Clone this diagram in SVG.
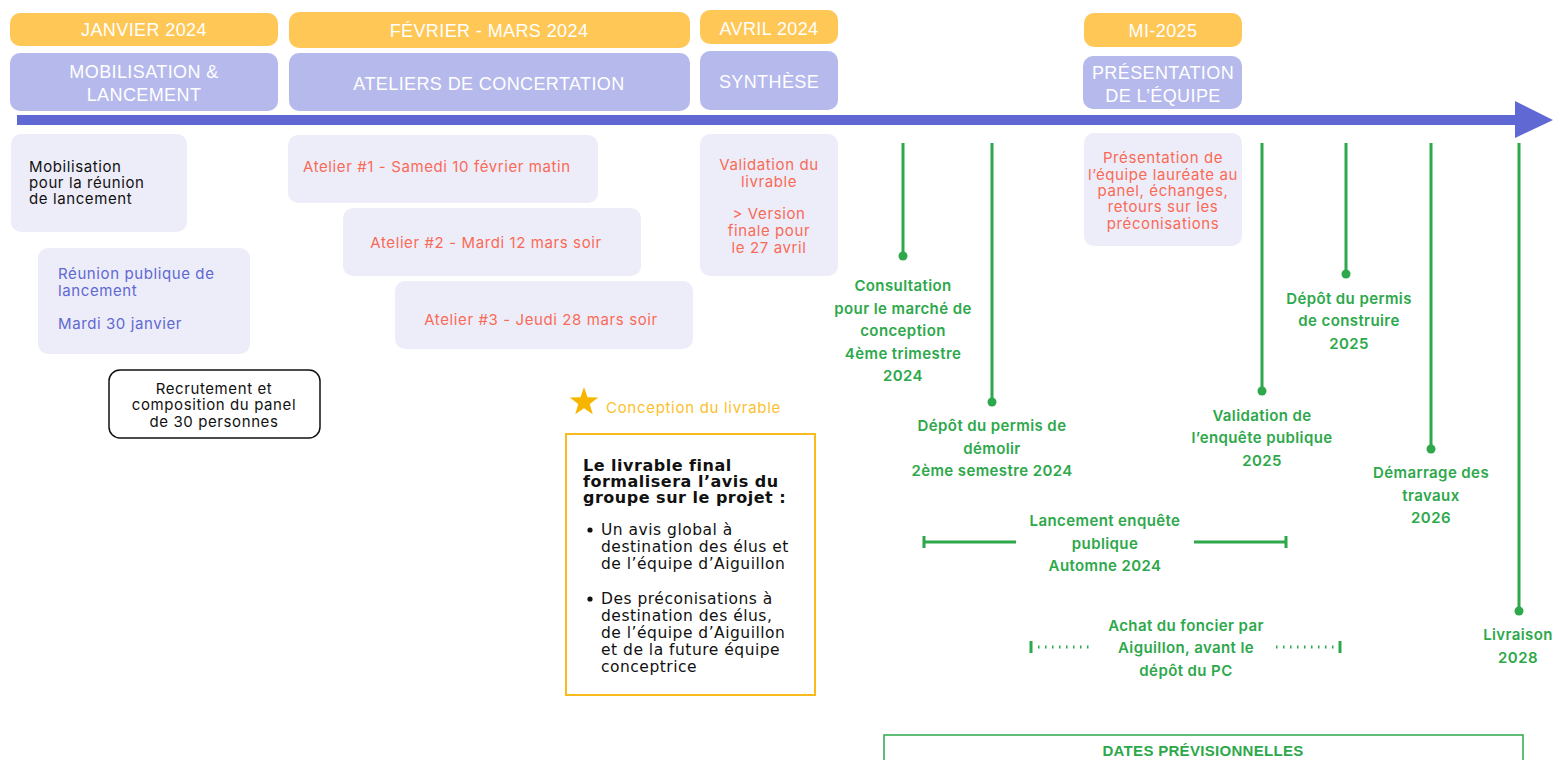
<svg xmlns="http://www.w3.org/2000/svg" width="1554" height="760" viewBox="0 0 1554 760">
<style>
.hdr{fill:#FEC756}
.phs{fill:#B6B9EC}
.ht{font-family:"Liberation Sans",Arial,sans-serif;font-size:18px;letter-spacing:0.4px;fill:#fff;text-anchor:middle}
.lb{fill:#EDEDF9}
.bt{font-family:Inter,"Liberation Sans",sans-serif;font-size:15px;letter-spacing:0.6px}
.coral{fill:#F96A56}
.blue{fill:#6068D3}
.blk{fill:#111}
.mid{text-anchor:middle}
.gl{stroke:#2DA84B;stroke-width:3;fill:none}
.gd{fill:#2DA84B}
.gt{font-family:Inter,"Liberation Sans",sans-serif;font-size:15px;letter-spacing:0.4px;font-weight:600;fill:#2DA84B;text-anchor:middle}
.yt{font-family:"DejaVu Sans","Open Sans",sans-serif;font-size:15.5px;letter-spacing:0.5px;fill:#111}
.yb{font-family:"DejaVu Sans","Open Sans",sans-serif;font-size:16px;letter-spacing:0.5px;font-weight:700;fill:#111}
</style>
<rect width="1554" height="760" fill="#fff"/>

<g id="hdr-janvier"><rect class="hdr" x="10" y="13" width="268" height="33" rx="10"/><text class="ht" x="144" y="36">JANVIER 2024</text></g>
<g id="phase-mobilisation"><rect class="phs" x="10" y="53" width="268" height="58" rx="10"/><text class="ht" x="144" y="78">MOBILISATION &amp;</text><text class="ht" x="144" y="101">LANCEMENT</text></g>
<g id="hdr-fevrier"><rect class="hdr" x="289" y="12" width="401" height="36" rx="10"/><text class="ht" x="489" y="37">FÉVRIER - MARS 2024</text></g>
<g id="phase-ateliers"><rect class="phs" x="289" y="53" width="401" height="58" rx="10"/><text class="ht" x="489" y="90">ATELIERS DE CONCERTATION</text></g>
<g id="hdr-avril"><rect class="hdr" x="700" y="10" width="138" height="34" rx="10"/><text class="ht" x="769" y="35">AVRIL 2024</text></g>
<g id="phase-synthese"><rect class="phs" x="700" y="51" width="138" height="59" rx="10"/><text class="ht" x="769" y="88">SYNTHÈSE</text></g>
<g id="hdr-mi2025"><rect class="hdr" x="1084" y="13" width="158" height="34" rx="10"/><text class="ht" x="1163" y="37">MI-2025</text></g>
<g id="phase-presentation"><rect class="phs" x="1083" y="56" width="159" height="53" rx="10"/><text class="ht" x="1163" y="79">PRÉSENTATION</text><text class="ht" x="1163" y="102">DE L’ÉQUIPE</text></g>

<g id="timeline-arrow"><rect x="17" y="115" width="1500" height="10" fill="#6068D3"/><polygon points="1515,101 1553,120 1515,138" fill="#6068D3"/></g>

<g id="box-mobilisation"><rect class="lb" x="11" y="134" width="176" height="98" rx="10"/>
<text class="bt blk" x="29" y="172">Mobilisation</text><text class="bt blk" x="29" y="188">pour la réunion</text><text class="bt blk" x="29" y="204">de lancement</text></g>
<g id="box-reunion"><rect class="lb" x="38" y="248" width="212" height="106" rx="10"/>
<text class="bt blue" x="58" y="279">Réunion publique de</text><text class="bt blue" x="58" y="296">lancement</text><text class="bt blue" x="58" y="329">Mardi 30 janvier</text></g>
<g id="box-recrutement"><rect x="109" y="370" width="211" height="68" rx="11" fill="#fff" stroke="#111" stroke-width="1.5"/>
<text class="bt blk mid" x="214" y="394">Recrutement et</text><text class="bt blk mid" x="214" y="410">composition du panel</text><text class="bt blk mid" x="214" y="427">de 30 personnes</text></g>

<g id="box-atelier1"><rect class="lb" x="288" y="135" width="310" height="68" rx="10"/><text class="bt coral" x="303" y="172">Atelier #1 - Samedi 10 février matin</text></g>
<g id="box-atelier2"><rect class="lb" x="343" y="208" width="298" height="68" rx="10"/><text class="bt coral mid" x="486" y="248">Atelier #2 - Mardi 12 mars soir</text></g>
<g id="box-atelier3"><rect class="lb" x="395" y="281" width="298" height="68" rx="10"/><text class="bt coral mid" x="541" y="325">Atelier #3 - Jeudi 28 mars soir</text></g>
<g id="box-validation"><rect class="lb" x="700" y="134" width="138" height="142" rx="10"/>
<text class="bt coral mid" x="769" y="170">Validation du</text><text class="bt coral mid" x="769" y="187">livrable</text><text class="bt coral mid" x="769" y="219">&gt; Version</text><text class="bt coral mid" x="769" y="236">finale pour</text><text class="bt coral mid" x="769" y="253">le 27 avril</text></g>
<g id="box-presentation"><rect class="lb" x="1084" y="133" width="158" height="113" rx="10"/>
<text class="bt coral mid" x="1163" y="163">Présentation de</text><text class="bt coral mid" x="1163" y="180">l’équipe lauréate au</text><text class="bt coral mid" x="1163" y="196">panel, échanges,</text><text class="bt coral mid" x="1163" y="212">retours sur les</text><text class="bt coral mid" x="1163" y="229">préconisations</text></g>

<g id="conception-label"><polygon points="584,387 587.5,397.2 598.3,397.4 589.7,404 592.8,414.3 584,408.2 575.2,414.3 578.3,404 569.7,397.4 580.5,397.2" fill="#F7B500"/>
<text x="606" y="413" font-family="Inter,'Liberation Sans',sans-serif" font-size="15" letter-spacing="0.7" fill="#FCBF2C">Conception du livrable</text></g>
<g id="box-livrable"><rect x="566" y="434" width="249" height="261" fill="none" stroke="#F8BA1C" stroke-width="2"/>
<text class="yb" x="583" y="471">Le livrable final</text>
<text class="yb" x="583" y="487">formalisera l’avis du</text>
<text class="yb" x="583" y="503">groupe sur le projet :</text>
<circle cx="590" cy="530" r="2.6" fill="#111"/>
<text class="yt" x="601" y="535">Un avis global à</text>
<text class="yt" x="601" y="552">destination des élus et</text>
<text class="yt" x="601" y="569">de l’équipe d’Aiguillon</text>
<circle cx="590" cy="599" r="2.6" fill="#111"/>
<text class="yt" x="601" y="604">Des préconisations à</text>
<text class="yt" x="601" y="621">destination des élus,</text>
<text class="yt" x="601" y="638">de l’équipe d’Aiguillon</text>
<text class="yt" x="601" y="655">et de la future équipe</text>
<text class="yt" x="601" y="672">conceptrice</text></g>

<g id="connectors">
<line class="gl" x1="903" y1="143" x2="903" y2="256"/><circle class="gd" cx="903" cy="256" r="4.5"/>
<line class="gl" x1="992" y1="143" x2="992" y2="402"/><circle class="gd" cx="992" cy="402" r="4.5"/>
<line class="gl" x1="1262" y1="143" x2="1262" y2="391"/><circle class="gd" cx="1262" cy="391" r="4.5"/>
<line class="gl" x1="1346" y1="143" x2="1346" y2="274"/><circle class="gd" cx="1346" cy="274" r="4.5"/>
<line class="gl" x1="1431" y1="143" x2="1431" y2="449"/><circle class="gd" cx="1431" cy="449" r="4.5"/>
<line class="gl" x1="1519" y1="143" x2="1519" y2="611"/><circle class="gd" cx="1519" cy="611" r="4.5"/>
<path class="gl" d="M924,542 H1016 M924,536 V548 M1194,542 H1286 M1286,536 V548" stroke-width="2.5"/>
<path class="gl" d="M1031,641 V653 M1340,641 V653" stroke-width="2"/>
<path class="gl" d="M1038,647 H1094 M1276,647 H1336" stroke-width="2" stroke-dasharray="1.5 5.5"/>
</g>

<g id="m-consultation"><text class="gt" x="903" y="291">Consultation</text><text class="gt" x="903" y="314">pour le marché de</text><text class="gt" x="903" y="336">conception</text><text class="gt" x="903" y="359">4ème trimestre</text><text class="gt" x="903" y="381">2024</text></g>
<g id="m-demolir"><text class="gt" x="992" y="431">Dépôt du permis de</text><text class="gt" x="992" y="454">démolir</text><text class="gt" x="992" y="476">2ème semestre 2024</text></g>
<g id="m-validation-enquete"><text class="gt" x="1262" y="421">Validation de</text><text class="gt" x="1262" y="443">l’enquête publique</text><text class="gt" x="1262" y="466">2025</text></g>
<g id="m-construire"><text class="gt" x="1349" y="304">Dépôt du permis</text><text class="gt" x="1349" y="326">de construire</text><text class="gt" x="1349" y="349">2025</text></g>
<g id="m-travaux"><text class="gt" x="1431" y="478">Démarrage des</text><text class="gt" x="1431" y="501">travaux</text><text class="gt" x="1431" y="523">2026</text></g>
<g id="m-livraison"><text class="gt" x="1518" y="640">Livraison</text><text class="gt" x="1518" y="663">2028</text></g>
<g id="m-lancement-enquete"><text class="gt" x="1105" y="526">Lancement enquête</text><text class="gt" x="1105" y="549">publique</text><text class="gt" x="1105" y="571">Automne 2024</text></g>
<g id="m-achat"><text class="gt" x="1186" y="631">Achat du foncier par</text><text class="gt" x="1186" y="653">Aiguillon, avant le</text><text class="gt" x="1186" y="676">dépôt du PC</text></g>

<g id="dates-previsionnelles"><rect x="884" y="735" width="639" height="40" fill="none" stroke="#2DA84B" stroke-width="1.5"/>
<text x="1203" y="756" font-family="'Liberation Sans',Arial,sans-serif" font-size="15" font-weight="700" fill="#2DA84B" text-anchor="middle" letter-spacing="0.3">DATES PRÉVISIONNELLES</text></g>
</svg>
